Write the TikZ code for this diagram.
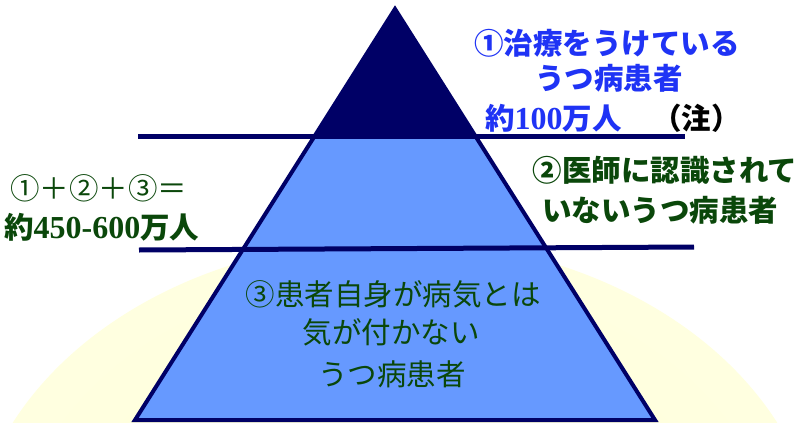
\documentclass[tikz,border=0pt]{standalone}
\usepackage{fontspec}
\setmainfont{Liberation Serif}
\newfontfamily\jp{Noto Sans CJK JP}
\definecolor{navy}{HTML}{000066}
\definecolor{lblue}{HTML}{6699FF}
\definecolor{tblue}{HTML}{1F33F5}
\definecolor{tgreen}{HTML}{0A470A}
\definecolor{paleA}{HTML}{FFFFD8}
\definecolor{paleB}{HTML}{FFFFE2}
\definecolor{paleC}{HTML}{FFFFF2}
\pgfdeclareradialshading{glow}{\pgfpoint{0bp}{0bp}}{color(0bp)=(paleA); color(30bp)=(paleB); color(45bp)=(paleC); color(50bp)=(white)}
\newcommand{\jpsz}{\fontsize{29.5}{30}\selectfont}
\newcommand{\dig}[1]{{\rmfamily\bfseries\fontsize{32}{30}\selectfont #1}}
\tikzset{
  jt/.style={font=\jp\jpsz, inner sep=0pt},
  bluet/.style={jt, text=tblue, font=\jp\bfseries\jpsz},
  greent/.style={jt, text=tgreen},
  greenb/.style={jt, text=tgreen, font=\jp\bfseries\jpsz},
  divider/.style={draw=navy, line width=5pt},
}
\begin{document}
\begin{tikzpicture}[x=1pt,y=-1pt]
\useasboundingbox (0,0) rectangle (806,423);
\fill[white] (0,0) rectangle (806,423);
\begin{scope}
  \clip (0,0) rectangle (806,423);
  \shade[shading=glow] (395,565) ellipse [x radius=425, y radius=325];
\end{scope}
% pyramid
\coordinate (apex) at (395,9);
\coordinate (bl) at (135,420);
\coordinate (br) at (655,420);
\fill[lblue] (apex) -- (bl) -- (br) -- cycle;
\begin{scope}
  \clip (apex) -- (bl) -- (br) -- cycle;
  \fill[navy] (0,0) rectangle (806,136);
\end{scope}
\draw[navy, line width=4pt, line join=miter] (apex) -- (bl) -- (br) -- cycle;
% dividers
\coordinate (d1a) at (138,136);
\coordinate (d1b) at (685,136);
\coordinate (d2a) at (139,250);
\coordinate (d2b) at (694,247);
\draw[divider] (d1a) -- (d1b);
\draw[divider] (d2a) -- (d2b);
% texts
\node[bluet] (t1a) at (607,43) {①治療をうけている};
\node[bluet] (t1b) at (609,78) {うつ病患者};
\node[bluet, anchor=west] (t1c) at (485,118) {約\dig{100}万人};
\node[jt, anchor=west, font=\jp\bfseries\jpsz] (note) at (652,118) {（注）};
\node[greenb] (t2a) at (665,170) {②医師に認識されて};
\node[greenb] (t2b) at (660,210) {いないうつ病患者};
\node[greent, anchor=west] (l1) at (10,188) {①＋②＋③＝};
\node[greenb, anchor=west] (l2) at (4,227) {約\dig{450-600}万人};
\node[greent] (t3a) at (393,294) {③患者自身が病気とは};
\node[greent] (t3b) at (391,332) {気が付かない};
\node[greent] (t3c) at (392,374) {うつ病患者};
\end{tikzpicture}
\end{document}
